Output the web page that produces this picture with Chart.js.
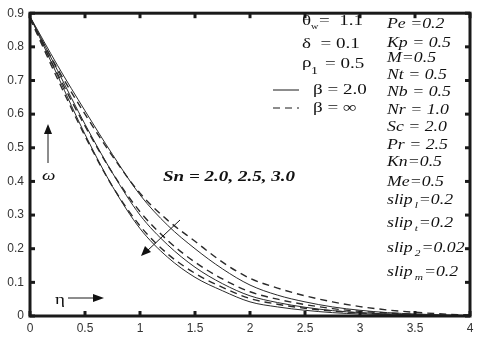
<!DOCTYPE html>
<html>
<head>
<meta charset="utf-8">
<script src="https://cdn.jsdelivr.net/npm/chart.js@4.4.1/dist/chart.umd.min.js"></script>
<style>
  html, body { margin: 0; padding: 0; background: #fff; }
  #wrap { width: 480px; height: 339px; position: relative; }
</style>
</head>
<body>
<div id="wrap"><canvas id="myChart"></canvas></div>
<script>
// eta values (x axis)
var eta = [0, 0.25, 0.5, 0.75, 1, 1.25, 1.5, 1.75, 2, 2.25, 2.5, 2.75, 3, 3.25, 3.5, 3.75, 4];

// omega for Sn = 2.0, 2.5, 3.0 ; solid = beta 2.0, dashed = beta infinity
var sn20Solid  = [0.89, 0.745, 0.61, 0.48, 0.36, 0.27, 0.20, 0.14, 0.092, 0.062, 0.042, 0.027, 0.017, 0.010, 0.006, 0.003, 0.001];
var sn20Dashed = [0.885, 0.735, 0.60, 0.475, 0.365, 0.285, 0.222, 0.16, 0.112, 0.083, 0.060, 0.042, 0.028, 0.018, 0.011, 0.006, 0.003];
var sn25Solid  = [0.89, 0.73, 0.57, 0.425, 0.30, 0.212, 0.145, 0.096, 0.060, 0.040, 0.026, 0.016, 0.010, 0.006, 0.003, 0.002, 0.001];
var sn25Dashed = [0.885, 0.72, 0.565, 0.425, 0.31, 0.225, 0.16, 0.11, 0.072, 0.050, 0.034, 0.022, 0.014, 0.009, 0.005, 0.003, 0.001];
var sn30Solid  = [0.89, 0.715, 0.54, 0.385, 0.26, 0.175, 0.115, 0.075, 0.042, 0.027, 0.017, 0.010, 0.006, 0.004, 0.002, 0.001, 0];
var sn30Dashed = [0.885, 0.705, 0.535, 0.385, 0.268, 0.185, 0.127, 0.085, 0.052, 0.035, 0.023, 0.015, 0.009, 0.005, 0.003, 0.002, 0.001];

var xTicks = [0, 0.5, 1, 1.5, 2, 2.5, 3, 3.5, 4];
var yTicks = [0, 0.1, 0.2, 0.3, 0.4, 0.5, 0.6, 0.7, 0.8, 0.9];

var STRETCH = 1.27; // the original figure is a bit wider than tall

function pts(vals) {
    return eta.map(function (e, i) { return { x: e, y: vals[i] }; });
}

function line(vals, dashed) {
    return {
        data: pts(vals),
        borderColor: '#2a2a2a',
        borderWidth: dashed ? 1.4 : 1,
        borderDash: dashed ? [7, 5] : [],
        pointRadius: 0,
        fill: false,
        cubicInterpolationMode: 'monotone'
    };
}

// draws stretched text, returns its drawn width
function txt(c, s, x, y, font) {
    c.save();
    c.font = font;
    c.translate(x, y);
    c.scale(STRETCH, 1);
    c.fillText(s, 0, 0);
    var w = c.measureText(s).width * STRETCH;
    c.restore();
    return w;
}

// frame, inward ticks and the text annotations
var decor = {
    id: 'decor',
    afterDraw: function (chart) {
        var c = chart.ctx, a = chart.chartArea;
        var xs = chart.scales.x, ys = chart.scales.y;
        c.save();
        c.strokeStyle = '#1a1a1a';
        c.lineWidth = 3;
        c.strokeRect(a.left, a.top, a.right - a.left, a.bottom - a.top);
        xTicks.forEach(function (v) {
            var px = xs.getPixelForValue(v);
            c.beginPath(); c.moveTo(px, a.bottom); c.lineTo(px, a.bottom - 5); c.stroke();
            c.beginPath(); c.moveTo(px, a.top); c.lineTo(px, a.top + 5); c.stroke();
        });
        yTicks.forEach(function (v) {
            var py = ys.getPixelForValue(v);
            c.beginPath(); c.moveTo(a.left, py); c.lineTo(a.left + 5, py); c.stroke();
            c.beginPath(); c.moveTo(a.right, py); c.lineTo(a.right - 5, py); c.stroke();
        });

        c.fillStyle = '#111';
        c.textBaseline = 'middle';
        c.textAlign = 'left';

        var serif = '15px "Liberation Serif"';
        // left legend block
        txt(c, '\u03B8', 302, 21, serif);
        txt(c, 'w', 311, 27, '8px "Liberation Serif"');
        txt(c, '=  1.1', 319, 21, serif);
        txt(c, '\u03B4  = 0.1', 302, 44, serif);
        txt(c, '\u03C1', 302, 63, serif);
        txt(c, '1', 311, 71, '11px "Liberation Serif"');
        txt(c, '= 0.5', 325, 64, serif);
        txt(c, '\u03B2 = 2.0', 313, 90, serif);
        txt(c, '\u03B2 = \u221E', 313, 108, serif);
        c.lineWidth = 1;
        c.beginPath(); c.moveTo(273, 90); c.lineTo(299, 90); c.stroke();
        c.setLineDash([7, 5]);
        c.beginPath(); c.moveTo(273, 108); c.lineTo(299, 108); c.stroke();
        c.setLineDash([]);

        // right parameter column
        var rx = 387;
        var it = 'italic 14px "Liberation Serif"';
        var rows = [['Pe =0.2', 24], ['Kp = 0.5', 43], ['M=0.5', 58], ['Nt = 0.5', 75],
                    ['Nb = 0.5', 92], ['Nr = 1.0', 110], ['Sc = 2.0', 127], ['Pr = 2.5', 145],
                    ['Kn=0.5', 162], ['Me=0.5', 182]];
        rows.forEach(function (r) { txt(c, r[0], rx, r[1], it); });
        var slips = [['l', '=0.2', 200], ['t', '=0.2', 223], ['2', '=0.02', 248], ['m', '=0.2', 272]];
        slips.forEach(function (s) {
            var w = txt(c, 'slip', rx, s[2], it);
            var w2 = txt(c, s[0], rx + w + 2, s[2] + 6, 'italic 9px "Liberation Serif"');
            txt(c, s[1], rx + w + w2 + 3, s[2], it);
        });

        // Sn label
        txt(c, 'Sn = 2.0, 2.5, 3.0', 163, 177, 'bold italic 15px "Liberation Serif"');

        // omega arrow
        c.lineWidth = 1;
        c.beginPath(); c.moveTo(48, 163); c.lineTo(48, 130); c.stroke();
        c.beginPath(); c.moveTo(48, 124); c.lineTo(44, 134); c.lineTo(52, 134); c.closePath(); c.fill();
        txt(c, '\u03C9', 42, 176, 'italic 15px "Liberation Serif"');

        // eta arrow
        txt(c, '\u03B7', 55, 300, '15px "Liberation Serif"');
        c.beginPath(); c.moveTo(68, 298); c.lineTo(96, 298); c.stroke();
        c.beginPath(); c.moveTo(104, 298); c.lineTo(93, 294); c.lineTo(93, 302); c.closePath(); c.fill();

        // Sn direction arrow
        c.beginPath(); c.moveTo(180, 220); c.lineTo(147, 251); c.stroke();
        c.beginPath(); c.moveTo(141, 256); c.lineTo(145, 246); c.lineTo(151, 252); c.closePath(); c.fill();
        c.restore();
    }
};

var myChart = new Chart(document.getElementById('myChart').getContext('2d'), {
    type: 'line',
    data: {
        datasets: [
            line(sn20Solid, false), line(sn20Dashed, true),
            line(sn25Solid, false), line(sn25Dashed, true),
            line(sn30Solid, false), line(sn30Dashed, true)
        ]
    },
    options: {
        responsive: true,
        maintainAspectRatio: false,
        animation: false,
        layout: { padding: { top: 11, right: 10, left: 0, bottom: 0 } },
        plugins: { legend: { display: false }, tooltip: { enabled: false } },
        scales: {
            x: {
                type: 'linear', min: 0, max: 4,
                afterBuildTicks: function (s) { s.ticks = xTicks.map(function (v) { return { value: v }; }); },
                afterFit: function (s) { s.height = 23; },
                grid: { display: false, drawTicks: false },
                border: { display: false },
                ticks: {
                    color: '#333', padding: 5,
                    font: { family: '"Liberation Sans"', size: 12 },
                    callback: function (v) { return String(v); }
                }
            },
            y: {
                type: 'linear', min: 0, max: 0.9,
                afterBuildTicks: function (s) { s.ticks = yTicks.map(function (v) { return { value: v }; }); },
                afterFit: function (s) { s.width = 30; },
                grid: { display: false, drawTicks: false },
                border: { display: false },
                ticks: {
                    color: '#333', padding: 6,
                    font: { family: '"Liberation Sans"', size: 12 },
                    callback: function (v) { return v === 0 ? '0' : v.toFixed(1); }
                }
            }
        }
    },
    plugins: [decor]
});
</script>
</body>
</html>
